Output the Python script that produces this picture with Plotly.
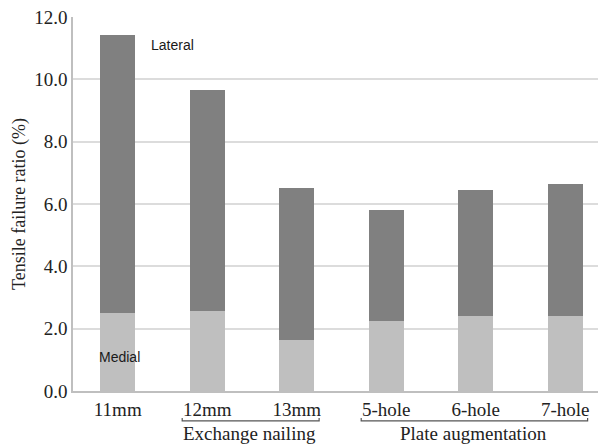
import plotly.graph_objects as go

categories = ["11mm", "12mm", "13mm", "5-hole", "6-hole", "7-hole"]
medial = [2.50, 2.57, 1.64, 2.25, 2.41, 2.41]
lateral = [8.92, 7.09, 4.87, 3.56, 4.04, 4.23]
groups = [("Exchange nailing", 1, 2), ("Plate augmentation", 3, 5)]
y_ticks = [0, 2, 4, 6, 8, 10, 12]

fig = go.Figure()
fig.add_trace(go.Bar(x=categories, y=medial, name="Medial", marker=dict(color="#bfbfbf", line=dict(width=0))))
fig.add_trace(go.Bar(x=categories, y=lateral, name="Lateral", marker=dict(color="#808080", line=dict(width=0))))

serif = "Liberation Serif"
fig.update_layout(
    barmode="stack",
    bargap=0.61,
    width=598, height=446,
    margin=dict(l=73, r=0, t=17, b=55),
    plot_bgcolor="white", paper_bgcolor="white",
    showlegend=False,
    font=dict(family=serif, color="#222222"),
)
fig.update_xaxes(
    type="category", range=[-0.5, 5.366],
    showline=True, linecolor="#bfbfbf", linewidth=1.5,
    ticks="", tickfont=dict(family=serif, size=19, color="#222222"),
    showgrid=False,
)
fig.update_yaxes(
    range=[0, 12], tickvals=y_ticks, tickformat=".1f",
    showline=True, linecolor="#bfbfbf", linewidth=1.5,
    showgrid=True, gridcolor="#dcdcdc", gridwidth=1.5,
    ticks="", tickfont=dict(family=serif, size=19, color="#222222"),
    title=dict(text="Tensile failure ratio (%)", font=dict(family=serif, size=18, color="#222222"), standoff=4),
    zeroline=False,
)

fig.add_annotation(x=0.35, y=11.1, xref="x", yref="y", text="Lateral", showarrow=False,
                   xanchor="left", font=dict(family="Liberation Sans", size=14, color="#1a1a1a"))
fig.add_annotation(x=-0.235, y=1.09, xref="x", yref="y", text="Medial", showarrow=False,
                   xanchor="left", font=dict(family="Liberation Sans", size=14, color="#1a1a1a"))

for label, i0, i1 in groups:
    x0 = i0 - 0.28
    x1 = i1 + 0.25
    fig.add_shape(type="path", xref="x", yref="paper",
                  path=f"M {x0},-0.072 L {x0},-0.080 L {x1},-0.080 L {x1},-0.072",
                  line=dict(color="#555555", width=1.2))
    fig.add_annotation(x=(i0 + i1) / 2 - 0.03, y=-0.113, xref="x", yref="paper", text=label,
                       showarrow=False, yanchor="middle",
                       font=dict(family="Liberation Serif, serif", size=19, color="#222222"))

fig.write_html("out.html", config={"displayModeBar": False},
               post_script="document.body.style.margin='0';document.body.style.overflow='hidden';")
